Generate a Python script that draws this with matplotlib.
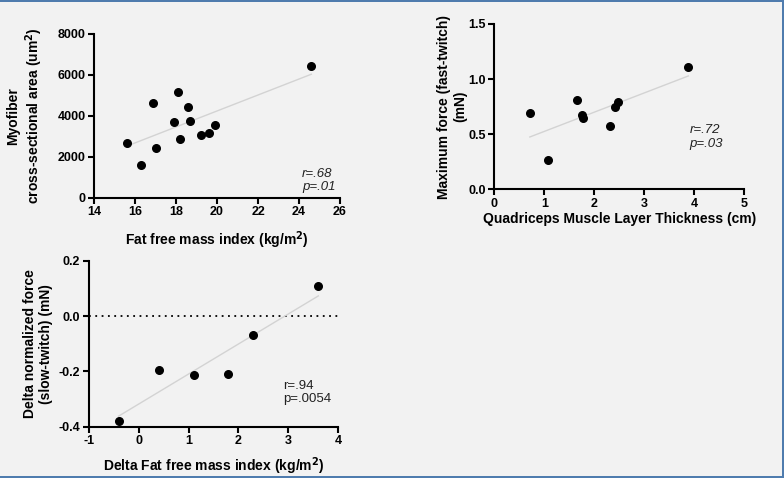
import matplotlib
matplotlib.use('Agg')
import matplotlib.pyplot as plt
import numpy as np
from matplotlib.patches import Rectangle

plt.rcParams['font.family'] = ['Liberation Sans', 'DejaVu Sans']
plt.rcParams['axes.unicode_minus'] = False

# panel A: fat free mass index vs myofiber CSA
ffmi = [15.6, 16.3, 16.9, 17.0, 17.9, 18.1, 18.2, 18.6, 18.7, 19.2, 19.6, 19.9, 24.6]
csa = [2700, 1600, 4650, 2450, 3690, 5170, 2900, 4430, 3740, 3080, 3190, 3570, 6450]

# panel B: quadriceps thickness vs max force (fast-twitch)
quad = [0.71, 1.07, 1.65, 1.75, 1.77, 2.31, 2.41, 2.48, 3.88]
fast_force = [0.695, 0.265, 0.81, 0.67, 0.645, 0.57, 0.745, 0.795, 1.11]

# panel C: delta FFMI vs delta normalized force (slow-twitch)
d_ffmi = [-0.4, 0.4, 1.1, 1.8, 2.3, 3.6]
d_force = [-0.378, -0.195, -0.212, -0.21, -0.069, 0.11]

bg = '#f2f2f2'
fig = plt.figure(figsize=(7.84, 4.78), dpi=100, facecolor=bg)


def panel(rect, x, y, xlim, ylim, xticks, yticks, xlabel, ylabel, stats, stats_pos,
          italic=True, fmt=None, xpad=6, ypad=4):
    ax = fig.add_axes(rect)
    ax.set_facecolor(bg)
    coef = np.polyfit(x, y, 1)
    xs = np.array([min(x), max(x)])
    ax.plot(xs, np.polyval(coef, xs), color='#d3d3d3', lw=1, zorder=1)
    ax.scatter(x, y, s=30, color='black', zorder=3, clip_on=False)
    ax.set_xlim(*xlim)
    ax.set_ylim(*ylim)
    ax.set_xticks(xticks)
    ax.set_yticks(yticks)
    if fmt:
        ax.yaxis.set_major_formatter(matplotlib.ticker.FormatStrFormatter(fmt))
    for s in ['top', 'right']:
        ax.spines[s].set_visible(False)
    for s in ['left', 'bottom']:
        ax.spines[s].set_linewidth(1.5)
    ax.tick_params(width=1.5, length=4, labelsize=9, pad=2)
    for lab in ax.get_xticklabels() + ax.get_yticklabels():
        lab.set_fontweight('bold')
    ax.set_xlabel(xlabel, fontsize=10, fontweight='bold', labelpad=xpad)
    ax.set_ylabel(ylabel, fontsize=10, fontweight='bold', labelpad=ypad)
    ax.text(stats_pos[0], stats_pos[1], stats, transform=ax.transAxes, fontsize=9.5,
            style='italic' if italic else 'normal', ha='left', va='bottom',
            color='#222222', linespacing=1.15)
    return ax


panel([0.1199, 0.5858, 0.3138, 0.3431], ffmi, csa, (14, 26), (0, 8000),
      [14, 16, 18, 20, 22, 24, 26], [0, 2000, 4000, 6000, 8000],
      'Fat free mass index (kg/m$^\\mathbf{2}$)',
      'Myofiber\ncross-sectional area (um$^\\mathbf{2}$)',
      'r=.68\np=.01', (0.845, 0.03), xpad=8, ypad=9)

panel([0.6305, 0.604, 0.3189, 0.3458], quad, fast_force, (0, 5), (0, 1.5),
      [0, 1, 2, 3, 4, 5], [0.0, 0.5, 1.0, 1.5],
      'Quadriceps Muscle Layer Thickness (cm)',
      'Maximum force (fast-twitch)\n(mN)',
      'r=.72\np=.03', (0.78, 0.24), fmt='%.1f', xpad=2, ypad=1)

ax3 = panel([0.1131, 0.1073, 0.3184, 0.3473], d_ffmi, d_force, (-1, 4), (-0.4, 0.2),
            [-1, 0, 1, 2, 3, 4], [-0.4, -0.2, 0.0, 0.2],
            'Delta Fat free mass index (kg/m$^\\mathbf{2}$)',
            'Delta normalized force\n(slow-twitch) (mN)',
            'r=.94\np=.0054', (0.78, 0.13), italic=False, fmt='%.1f')
ax3.axhline(0, color='black', lw=1.3, ls=(0, (1, 2.5)), zorder=0)

# blue frame lines (top, right, bottom)
frame = '#4f7cae'
fig.add_artist(Rectangle((0, 1 - 1.5 / 478), 1, 1.5 / 478, transform=fig.transFigure, color=frame, lw=0))
fig.add_artist(Rectangle((1 - 2.5 / 784, 0), 2.5 / 784, 1, transform=fig.transFigure, color=frame, lw=0))
fig.add_artist(Rectangle((0, 0), 1, 2.5 / 478, transform=fig.transFigure, color=frame, lw=0))

fig.savefig('out.png', dpi=100, facecolor=bg)
